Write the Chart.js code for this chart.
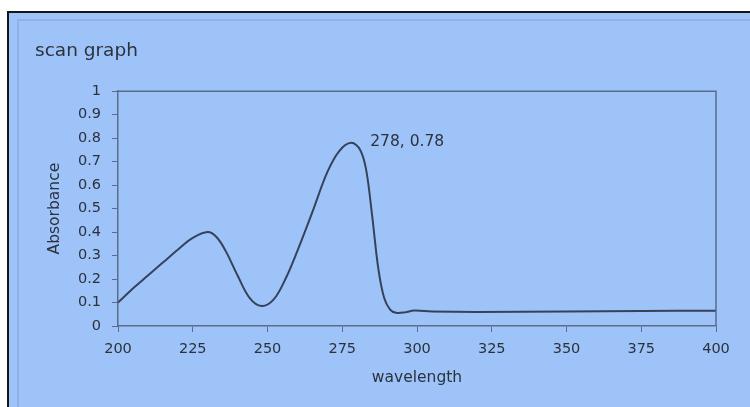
<!DOCTYPE html>
<html>
<head>
<meta charset="utf-8">
<script src="https://cdn.jsdelivr.net/npm/chart.js@4/dist/chart.umd.min.js"></script>
<style>
  html, body { margin: 0; padding: 0; background: #fff; width: 750px; height: 407px; overflow: hidden; }
  #frame {
    position: absolute; left: 7px; top: 11px; width: 760px; height: 420px;
    border-left: 2px solid #151515; border-top: 2px solid #151515;
    background: #9ec3f9;
  }
  #inner {
    position: absolute; left: 8px; top: 6px; right: 0; bottom: 0;
    border-left: 2px solid #8fb2e6; border-top: 2px solid #8fb2e6;
  }
  #wrap { position: absolute; left: 0; top: 0; width: 750px; height: 407px; }
</style>
</head>
<body>
<div id="frame"><div id="inner"></div></div>
<div id="wrap"><canvas id="scanChart" width="750" height="407"></canvas></div>
<script>
// scan data: wavelength (nm) vs absorbance
const wavelength = [200, 205, 210, 215, 220, 225, 230, 233, 236, 240, 244, 248, 252, 256, 260, 265, 270, 274, 278, 281, 283, 285, 287, 289, 291, 293, 296, 299, 305, 320, 350, 375, 400];
const absorbance = [0.10, 0.16, 0.215, 0.27, 0.325, 0.375, 0.40, 0.378, 0.32, 0.215, 0.12, 0.085, 0.112, 0.20, 0.32, 0.485, 0.655, 0.745, 0.78, 0.75, 0.665, 0.47, 0.25, 0.12, 0.07, 0.056, 0.058, 0.066, 0.062, 0.060, 0.062, 0.064, 0.065];

const xTicks = [200, 225, 250, 275, 300, 325, 350, 375, 400];
const yTicks = [0, 0.1, 0.2, 0.3, 0.4, 0.5, 0.6, 0.7, 0.8, 0.9, 1];
const yTickLabels = ['0', '0.1', '0.2', '0.3', '0.4', '0.5', '0.6', '0.7', '0.8', '0.9', '1'];

const peak = { x: 278, y: 0.78 };

const axisColor = '#596c8b';
const textColor = '#2c323c';
const fontFamily = '"DejaVu Sans", Verdana, sans-serif';

// frame on top/right of the plot area
const plotFrame = {
    id: 'plotFrame',
    afterDraw(chart) {
        const { ctx, chartArea: a } = chart;
        ctx.save();
        ctx.strokeStyle = axisColor;
        ctx.lineWidth = 1.5;
        ctx.beginPath();
        ctx.moveTo(a.left, a.top);
        ctx.lineTo(a.right, a.top);
        ctx.lineTo(a.right, a.bottom);
        ctx.stroke();
        ctx.restore();
    }
};

// "x, y" label next to the peak
const peakLabel = {
    id: 'peakLabel',
    afterDatasetsDraw(chart) {
        const { ctx, scales } = chart;
        const px = scales.x.getPixelForValue(peak.x);
        const py = scales.y.getPixelForValue(peak.y);
        ctx.save();
        ctx.font = '15.5px ' + fontFamily;
        ctx.fillStyle = textColor;
        ctx.textAlign = 'left';
        ctx.textBaseline = 'middle';
        ctx.fillText(`${peak.x}, ${peak.y}`, px + 19, py - 1);
        ctx.restore();
    }
};

new Chart(document.getElementById('scanChart'), {
    type: 'line',
    data: {
        datasets: [{
            data: wavelength.map((w, i) => ({ x: w, y: absorbance[i] })),
            borderColor: '#36425a',
            borderWidth: 2,
            pointRadius: 0,
            fill: false,
            tension: 0.35
        }]
    },
    options: {
        responsive: false,
        animation: false,
        layout: { padding: { left: 35, right: 34, top: 0, bottom: 10 } },
        plugins: {
            legend: { display: false },
            tooltip: { enabled: false },
            title: {
                display: true,
                text: 'scan graph',
                align: 'start',
                color: textColor,
                font: { family: fontFamily, size: 18.5, weight: 'normal' },
                padding: { top: 40, bottom: 29 }
            }
        },
        scales: {
            x: {
                type: 'linear',
                min: 200,
                max: 400,
                afterBuildTicks: s => { s.ticks = xTicks.map(v => ({ value: v })); },
                afterFit: s => { s.height = 71; },
                ticks: { color: textColor, font: { family: fontFamily, size: 14.5 }, padding: 9, maxRotation: 0 },
                grid: { drawOnChartArea: false, drawTicks: true, tickLength: 6, tickColor: axisColor },
                border: { color: axisColor, width: 1.5 },
                title: {
                    display: true,
                    text: 'wavelength',
                    color: textColor,
                    font: { family: fontFamily, size: 15.5 },
                    padding: { top: 0, bottom: 10 }
                }
            },
            y: {
                min: 0,
                max: 1,
                afterBuildTicks: s => { s.ticks = yTicks.map(v => ({ value: v })); },
                afterFit: s => { s.width = 83; },
                ticks: {
                    color: textColor,
                    font: { family: fontFamily, size: 14.5 },
                    padding: 11,
                    callback: (v, i) => yTickLabels[i]
                },
                grid: { drawOnChartArea: false, drawTicks: true, tickLength: 6, tickColor: axisColor },
                border: { color: axisColor, width: 1.5 },
                title: {
                    display: true,
                    text: 'Absorbance',
                    color: textColor,
                    font: { family: fontFamily, size: 15.5 },
                    padding: { top: 11, bottom: 0 }
                }
            }
        }
    },
    plugins: [plotFrame, peakLabel]
});
</script>
</body>
</html>
